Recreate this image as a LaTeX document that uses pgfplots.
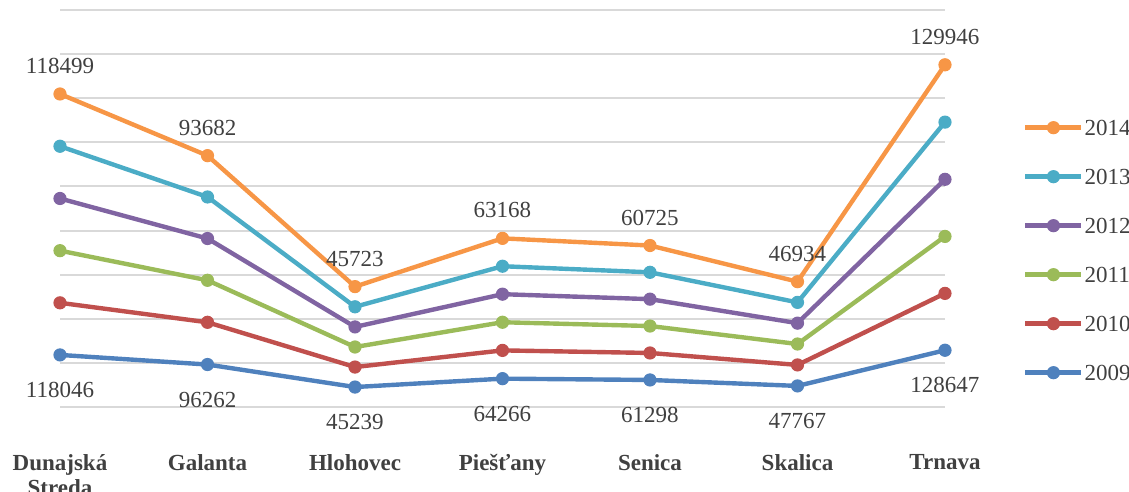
\documentclass[border=0pt]{standalone}
\usepackage{fontspec}
\setmainfont{Liberation Serif}
\usepackage{pgfplots}
\pgfplotsset{compat=1.18}
\usepackage{pgfplotstable}

\definecolor{c2009}{HTML}{4F81BD}
\definecolor{c2010}{HTML}{C0504D}
\definecolor{c2011}{HTML}{9BBB59}
\definecolor{c2012}{HTML}{8064A2}
\definecolor{c2013}{HTML}{4BACC6}
\definecolor{c2014}{HTML}{F79646}
\definecolor{gridgray}{HTML}{D9D9D9}
\definecolor{txtgray}{HTML}{404040}

% okresy Trnavskeho kraja, 2009-2014
\pgfplotstableread{
x y2009 y2010 y2011 y2012 y2013 y2014
0 118046 118130 118220 118310 118400 118499
1 96262  95746  95230  94714  94198  93682
2 45239  45336  45433  45530  45626  45723
3 64266  64046  63826  63607  63388  63168
4 61298  61183  61069  60954  60840  60725
5 47767  47600  47434  47267  47101  46934
6 128647 128907 129167 129426 129686 129946
}\data

\begin{document}
\begin{tikzpicture}
\begin{axis}[
    at={(30pt,42.5pt)}, anchor=south west,
    scale only axis,
    width=442.5pt, height=198.5pt,
    xmin=0, xmax=6, ymin=0, ymax=900000,
    stack plots=y,
    clip=false,
    axis line style={draw=none},
    major tick length=0pt,
    scaled y ticks=false,
    ytick={0,100000,...,900000}, yticklabels={},
    ymajorgrids,
    grid style={line width=1pt, color=gridgray},
    xtick={0,...,6},
    xticklabels={{Dunajská\\Streda},Galanta,Hlohovec,Piešťany,Senica,Skalica,Trnava},
    xticklabel style={font=\fontsize{11.5}{12.5}\selectfont\bfseries, align=center,
        anchor=north, yshift=-20pt, text=txtgray},
    every axis plot/.append style={line width=2.2pt, mark=*, mark size=3pt,
        mark options={line width=0.6pt}},
    legend image code/.code={\draw[mark repeat=2,mark phase=2]
        plot coordinates {(0pt,0pt) (14pt,0pt) (28pt,0pt)};},
    legend style={at={(1.088,0.395)}, anchor=west, draw=none, fill=none,
        font=\fontsize{11.5}{12}\selectfont, text=txtgray,
        row sep=15.5pt, inner sep=0pt, column sep=0pt,
        nodes={inner sep=0.5pt, text height=8pt, text depth=0pt}},
    legend cell align=left,
    reverse legend,
]
\addplot[color=c2009,
    nodes near coords, point meta=explicit symbolic,
    every node near coord/.append style={font=\fontsize{11.5}{12}\selectfont,
        text=txtgray, anchor=center, yshift=-17.5pt}]
    table[x=x, y=y2009, meta=y2009] {\data};
\addlegendentry{2009}
\addplot[color=c2010] table[x=x, y=y2010] {\data};
\addlegendentry{2010}
\addplot[color=c2011] table[x=x, y=y2011] {\data};
\addlegendentry{2011}
\addplot[color=c2012] table[x=x, y=y2012] {\data};
\addlegendentry{2012}
\addplot[color=c2013] table[x=x, y=y2013] {\data};
\addlegendentry{2013}
\addplot[color=c2014,
    nodes near coords, point meta=explicit symbolic,
    every node near coord/.append style={font=\fontsize{11.5}{12}\selectfont,
        text=txtgray, anchor=center, yshift=14pt}]
    table[x=x, y=y2014, meta=y2014] {\data};
\addlegendentry{2014}
\end{axis}
\pgfresetboundingbox
\path (0,0) rectangle (564.5pt,246pt);
\end{tikzpicture}
\end{document}
